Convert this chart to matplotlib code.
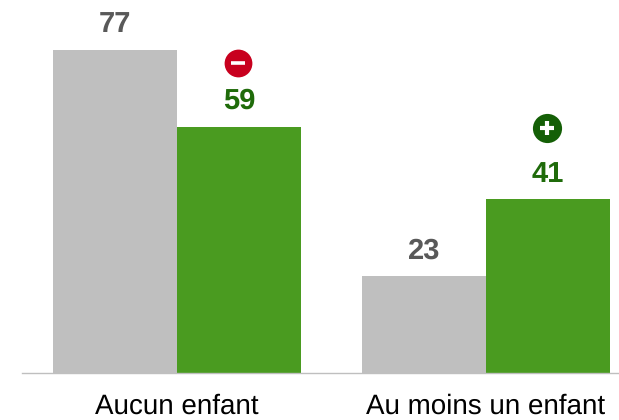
import matplotlib
matplotlib.use("Agg")
import matplotlib.pyplot as plt
import numpy as np

categories = ["Aucun enfant", "Au moins un enfant"]
grey_values = [77.0, 23.1]
green_values = [58.7, 41.4]

# badge height above the value, in chart units
minus_badge_y = 73.8
plus_badge_y = 58.4

plt.rcParams["font.family"] = ["Liberation Sans", "DejaVu Sans"]
plt.rcParams["text.hinting"] = "no_hinting"

fig = plt.figure(figsize=(6.19, 4.2), dpi=100)
ax = fig.add_axes([22 / 619, 47 / 420, 597 / 619, 373 / 420])

x = np.arange(len(categories))
width = 0.4013
ax.bar(x - width / 2, grey_values, width, color="#bfbfbf")
ax.bar(x + width / 2, green_values, width, color="#4a9b20")

for i in x:
    ax.annotate("%.0f" % grey_values[i], (i - width / 2, grey_values[i]), xytext=(0, 8.5), textcoords="offset points",
                ha="center", va="bottom", fontsize=21, fontweight="bold", color="#595959")
    ax.annotate("%.0f" % green_values[i], (i + width / 2, green_values[i]), xytext=(0, 8.5), textcoords="offset points",
                ha="center", va="bottom", fontsize=21, fontweight="bold", color="#1f6b0a")

# minus badge over first green bar
badge_x = x + width / 2 - 0.003
ax.plot(badge_x[0], minus_badge_y, "o", ms=20, color="#c8001e", mew=0)
ax.plot(badge_x[0], minus_badge_y, "_", ms=10, color="white", mew=2.6)
# plus badge over second green bar
ax.plot(badge_x[1], plus_badge_y, "o", ms=21, color="#145f06", mew=0)
ax.plot(badge_x[1], plus_badge_y, "+", ms=10.5, color="white", mew=3)

ax.set_xlim(-0.5016, 1.4304)
ax.set_ylim(0, 373 / 4.195)
ax.set_xticks(x)
ax.set_xticklabels(categories, fontsize=20, color="black")
ax.set_yticks([])
ax.tick_params(axis="x", length=0, pad=15)
for s in ["top", "left", "right"]:
    ax.spines[s].set_visible(False)
ax.spines["bottom"].set_color("#bfbfbf")
ax.spines["bottom"].set_linewidth(1)

fig.savefig("out.png", dpi=100)
